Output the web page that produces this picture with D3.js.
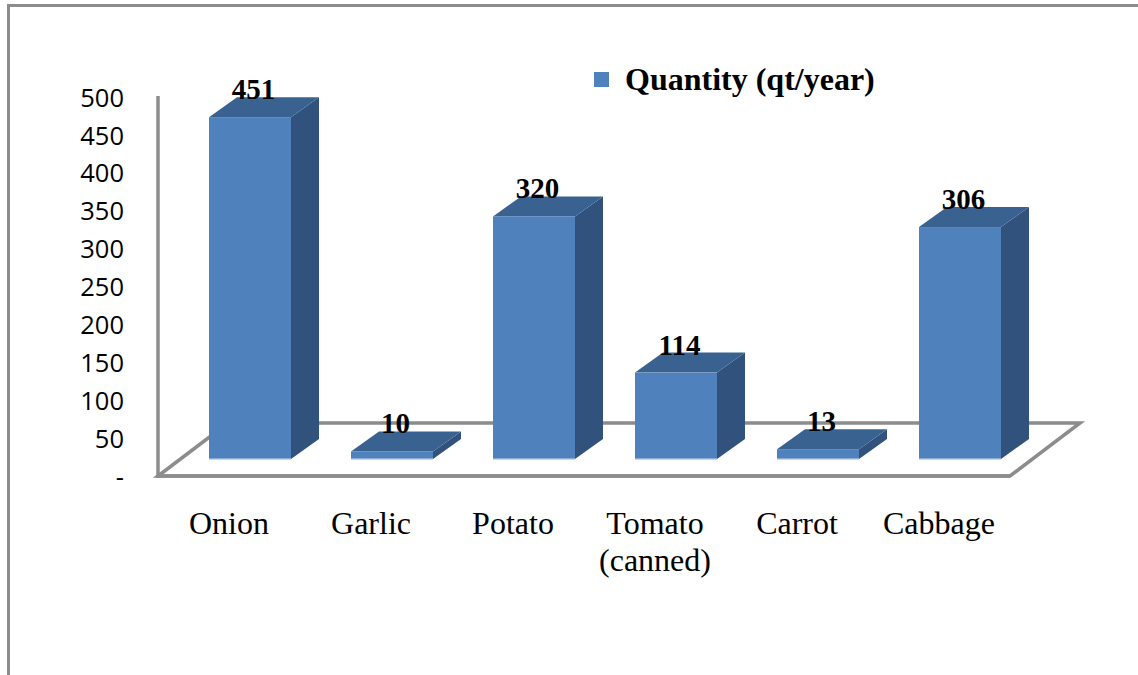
<!DOCTYPE html>
<html>
<head>
<meta charset="utf-8">
<script src="https://cdn.jsdelivr.net/npm/d3@7"></script>
<style>
html,body{margin:0;padding:0;background:#fff;overflow:hidden}
svg{display:block}
</style>
</head>
<body>
<svg id="chart" width="1138" height="675"></svg>
<script>
// Annual vegetable quantities
const categories = ["Onion", "Garlic", "Potato", "Tomato (canned)", "Carrot", "Cabbage"];
const categoryLines = [["Onion"], ["Garlic"], ["Potato"], ["Tomato", "(canned)"], ["Carrot"], ["Cabbage"]];
const quantities = [451, 10, 320, 114, 13, 306];
const yTicks = [0, 50, 100, 150, 200, 250, 300, 350, 400, 450, 500];
const seriesName = "Quantity (qt/year)";

const svg = d3.select("#chart");
const serif = "'Liberation Serif','Times New Roman',serif";
const axisFont = "'Open Sans',sans-serif";
const grey = "#8c8c8c";

const y = d3.scaleLinear().domain([0, 500]).range([476, 97]);
const x = d3.scaleBand().domain(categories).range([179, 1031]).paddingInner(0.4225).paddingOuter(0.21125);

// Oblique projection of the 3D box: depth offset and the lift of the front plane
const depthX = 28, depthY = 20, frontLift = 17;

// Outer frame of the chart area
svg.append("path").attr("d", "M8.5,675V5.5H1138")
  .attr("fill", "none").attr("stroke", grey).attr("stroke-width", 3);

// Floor of the 3D plot
const floor = svg.append("g").attr("fill", "none").attr("stroke", grey).attr("stroke-width", 3.5);
floor.append("path").attr("d", "M158,476L228,423H1080L1010,476Z").attr("stroke-linejoin", "miter");
floor.append("path").attr("d", `M158,${y(500) - 1}V478`);
floor.append("path").attr("d", "M157,476H1010");

// Y axis labels
const yAxis = d3.axisLeft(y).tickValues(yTicks).tickSize(0).tickPadding(0)
  .tickFormat(d => d === 0 ? "-" : d3.format("d")(d));
const yG = svg.append("g").attr("transform", "translate(124,1)").call(yAxis);
yG.select(".domain").remove();
yG.selectAll("text").attr("font-family", axisFont).attr("font-size", 25.5).attr("fill", "#000");

// Bars drawn as three faces each
const bars = svg.append("g").selectAll("g").data(categories).join("g");
const bw = x.bandwidth();
const frontTop = i => y(quantities[i]) - frontLift;
const base = y(0) - frontLift;

bars.append("path").attr("fill", "#30527c")
  .attr("d", (d, i) => {
    const r = x(d) + bw;
    return `M${r},${frontTop(i)}l${depthX},${-depthY}V${base - depthY}l${-depthX},${depthY}Z`;
  });
bars.append("path").attr("fill", "#3a6291")
  .attr("d", (d, i) => {
    const l = x(d);
    return `M${l},${frontTop(i)}l${depthX},${-depthY}h${bw}l${-depthX},${depthY}Z`;
  });
bars.append("rect").attr("fill", "#4f81bd")
  .attr("x", d => x(d)).attr("width", bw)
  .attr("y", (d, i) => frontTop(i)).attr("height", (d, i) => base - frontTop(i));
bars.append("rect").attr("fill", "#c5d7ec")
  .attr("x", d => x(d)).attr("width", bw)
  .attr("y", base - 0.5).attr("height", 1.5);

// Value labels
svg.append("g").selectAll("text").data(quantities).join("text")
  .attr("x", (d, i) => x(categories[i]) + bw / 2 + 3.5)
  .attr("y", (d, i) => frontTop(i) - 18)
  .attr("text-anchor", "middle")
  .attr("font-family", serif).attr("font-weight", "bold").attr("font-size", 29)
  .text(d => d);

// Category labels
const catLabels = svg.append("g").selectAll("text").data(categories).join("text")
  .attr("text-anchor", "middle")
  .attr("font-family", serif).attr("font-size", 32).attr("fill", "#000");
catLabels.selectAll("tspan").data((d, i) => categoryLines[i].map(t => ({ t, d }))).join("tspan")
  .attr("x", o => x(o.d) + bw / 2 - 21)
  .attr("y", (o, j) => 534 + j * 37)
  .text(o => o.t);

// Legend
svg.append("rect").attr("x", 594).attr("y", 72).attr("width", 15).attr("height", 15).attr("fill", "#4f81bd");
svg.append("text").attr("x", 625).attr("y", 90)
  .attr("font-family", serif).attr("font-weight", "bold").attr("font-size", 32)
  .text(seriesName);
</script>
</body>
</html>
